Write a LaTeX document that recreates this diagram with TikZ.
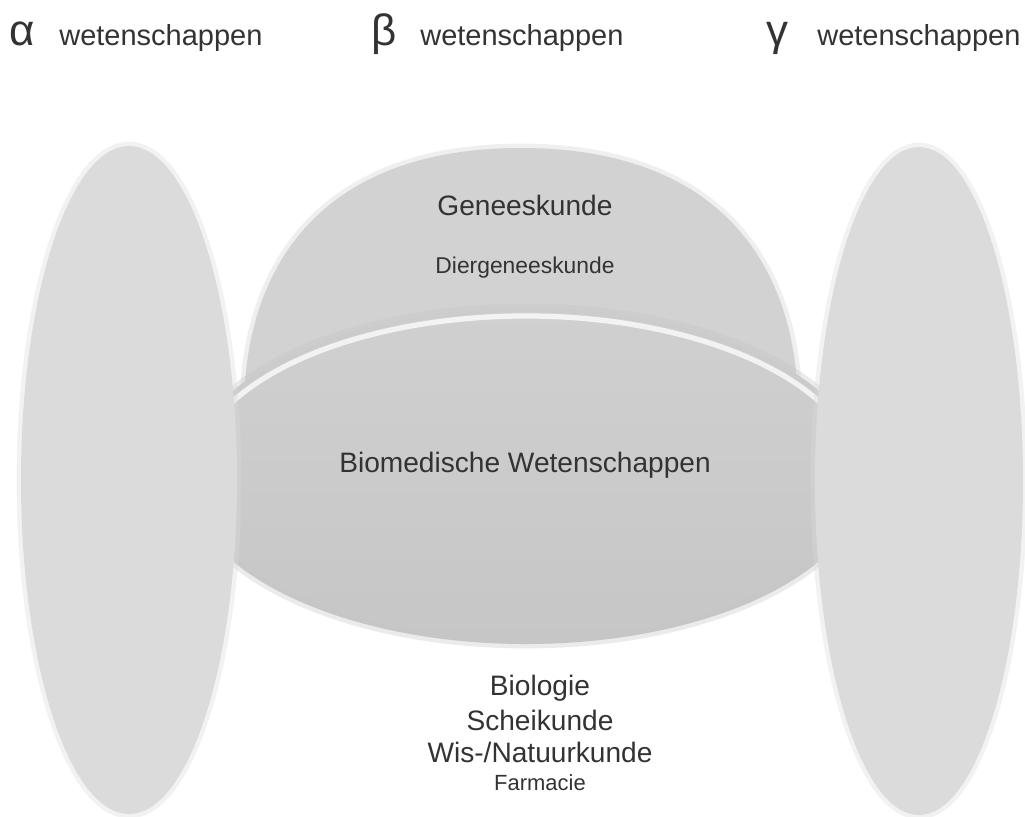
\documentclass[tikz,border=0pt]{standalone}
\usepackage{fontspec}
\setmainfont{Liberation Sans}
\definecolor{txt}{HTML}{333333}
\definecolor{sidegray}{HTML}{DBDBDB}
\definecolor{domegray}{HTML}{D2D2D2}
\definecolor{midtop}{HTML}{D0D0D0}
\definecolor{midbot}{HTML}{C6C6C6}
\tikzset{
  lbl/.style={text=txt, inner sep=0pt, anchor=center},
  big/.style={lbl, font=\fontsize{16}{19}\selectfont},
  head/.style={text=txt, inner sep=0pt, anchor=base west, font=\fontsize{16.5}{19}\selectfont},
  greek/.style={text=txt, inner sep=0pt, anchor=base west, font=\fontsize{25}{28}\selectfont},
  small/.style={lbl, font=\fontsize{13}{16}\selectfont},
  soft/.style={line width=5, draw opacity=0.35},
}
\begin{document}
\begin{tikzpicture}[x=0.02cm,y=-0.02cm]
\useasboundingbox (0,0) rectangle (1025,816);
\fill[white] (0,0) rectangle (1025,816);

% dome (Geneeskunde)
\path[fill=domegray, draw=domegray, soft]
  (244,410) .. controls (244,270) and (318,148) .. (521,148)
            .. controls (724,148) and (798,270) .. (798,410) -- cycle;

% middle ellipse (Biomedische Wetenschappen)
\path[top color=midtop, bottom color=midbot, draw=midbot, soft]
  (526,476) ellipse [x radius=340, y radius=168];
\draw[white, line width=3, opacity=0.75, line cap=round]
  (526,480) ++(205:334 and 164) arc[start angle=205, end angle=335, x radius=334, y radius=164];

% side ellipses
\path[fill=sidegray, draw=sidegray, soft] (129,480) ellipse [x radius=108, y radius=334];
\path[fill=sidegray, draw=sidegray, soft] (919,481) ellipse [x radius=104, y radius=334];

% header labels
\node[greek] (alpha) at (9,45) {α};
\node[head]  (wa)    at (59,45) {wetenschappen};
\node[greek] (beta)  at (371,45) {β};
\node[head]  (wb)    at (420,45) {wetenschappen};
\node[greek] (gamma) at (766,45) {γ};
\node[head]  (wc)    at (817,45) {wetenschappen};

% dome texts
\node[big]   (gen)  at (525,205) {Geneeskunde};
\node[small] (dier) at (525,268) {Diergeneeskunde};

% middle text
\node[big] (bio) at (525,465) {Biomedische Wetenschappen};

% bottom texts
\node[big] (biol)  at (540,688) {Biologie};
\node[big] (schei) at (540,720) {Scheikunde};
\node[big] (wis)   at (540,752) {Wis-/Natuurkunde};
\node[lbl, font=\fontsize{12.5}{15}\selectfont] (farm) at (540,783) {Farmacie};
\end{tikzpicture}
\end{document}
